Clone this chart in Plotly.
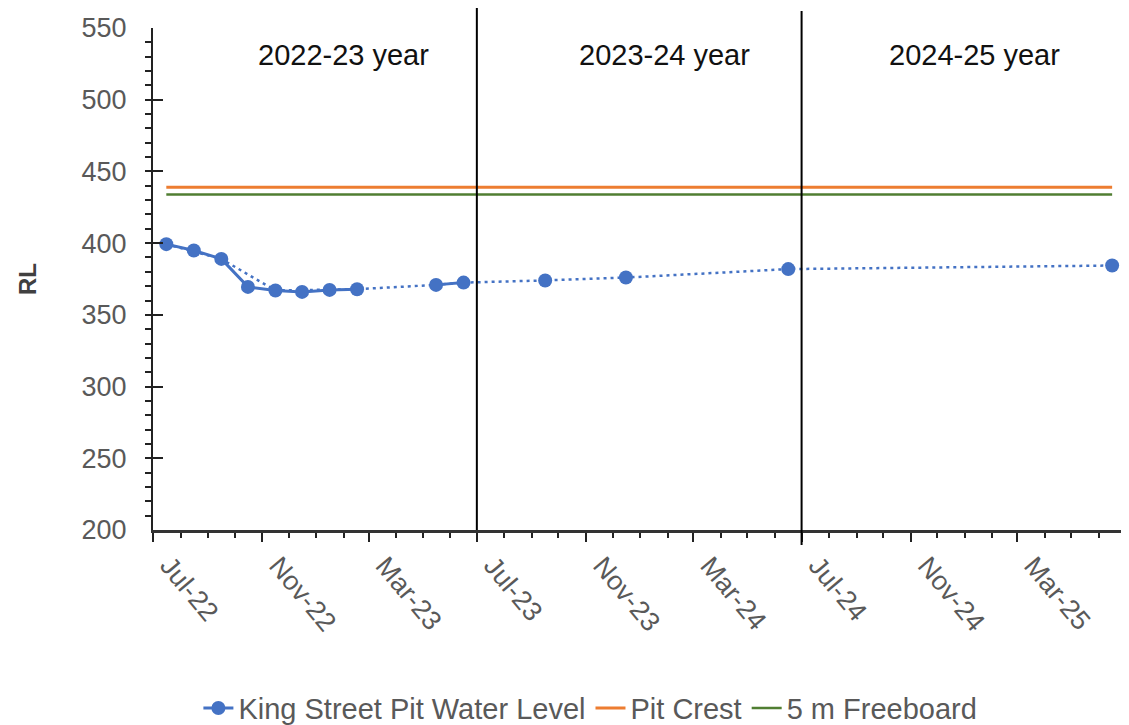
import pandas as pd
import plotly.graph_objects as go

# ---- data ----
obs_months = ["2022-07", "2022-08", "2022-09", "2022-10", "2022-11", "2022-12",
              "2023-01", "2023-02", "2023-05", "2023-06", "2023-09", "2023-12",
              "2024-06", "2025-06"]
water_level = [399.3, 394.9, 389.0, 369.5, 367.0, 366.0,
               367.4, 367.9, 370.9, 372.5, 374.0, 376.0,
               381.9, 384.4]
trend_months = ["2022-07", "2022-09", "2022-11", "2023-02", "2023-05", "2023-06",
                "2023-09", "2023-12", "2024-06", "2025-06"]
pit_crest = 439.0
freeboard = 5.0

year_bounds = ["2023-07-01", "2024-07-01"]
year_labels = ["2022-23 year", "2023-24 year", "2024-25 year"]
year_label_at = ["2023-02-01", "2024-01-28", "2025-01-12"]

# ---- derived series ----
def mid(m):
    return pd.Timestamp(m + "-01") + pd.Timedelta(days=15)

lvl = pd.Series(water_level, index=[mid(m) for m in obs_months])
full_idx = pd.date_range(mid(obs_months[0]).replace(day=1), mid(obs_months[-1]).replace(day=1), freq="MS") + pd.Timedelta(days=15)
monthly = lvl.reindex(full_idx)
trend = lvl.loc[[mid(m) for m in trend_months]]

BLUE = "#4472C4"
ORANGE = "#ED7D31"
GREEN = "#507E32"
FONT = "Liberation Sans, Arial, sans-serif"

fig = go.Figure()

fig.add_trace(go.Scatter(
    x=trend.index, y=trend.values, mode="lines",
    line=dict(color=BLUE, width=2.5, dash="3px,4px"),
    showlegend=False, hoverinfo="skip"))

fig.add_trace(go.Scatter(
    x=monthly.index, y=[None if pd.isna(v) else v for v in monthly.values],
    mode="lines+markers", name="King Street Pit Water Level",
    line=dict(color=BLUE, width=3), marker=dict(color=BLUE, size=14),
    connectgaps=False))

ends = [lvl.index[0], lvl.index[-1]]
fig.add_trace(go.Scatter(
    x=ends, y=[pit_crest, pit_crest], mode="lines", name="Pit Crest",
    line=dict(color=ORANGE, width=3)))
fig.add_trace(go.Scatter(
    x=ends, y=[pit_crest - freeboard, pit_crest - freeboard], mode="lines",
    name="5 m Freeboard", line=dict(color=GREEN, width=2.5)))

shapes = []
for i, b in enumerate(year_bounds):
    shapes.append(dict(type="line", xref="x", yref="paper", x0=b, x1=b,
                       y0=0 if i == 0 else -0.03, y1=1.04 if i == 0 else 1.034,
                       line=dict(color="black", width=2)))

annotations = []
for t, x in zip(year_labels, year_label_at):
    annotations.append(dict(x=x, y=0.946, xref="x", yref="paper", text=t,
                            showarrow=False, xanchor="center", yanchor="middle",
                            font=dict(family=FONT, size=29, color="#111111")))

fig.update_layout(
    width=1129, height=725,
    margin=dict(l=145, r=12, t=20, b=203, autoexpand=False),
    paper_bgcolor="white", plot_bgcolor="white",
    font=dict(family=FONT, size=27, color="#595959"),
    shapes=shapes, annotations=annotations,
    legend=dict(orientation="h", x=0.45, xanchor="center", y=-0.355, yanchor="middle",
                font=dict(family=FONT, size=29, color="#595959"),
                itemwidth=30, tracegroupgap=0),
    showlegend=True,
)

fig.update_xaxes(
    type="date", range=["2022-07-01", "2025-06-30 12:00"], automargin=False,
    tick0="2022-07-01", dtick="M4", tickformat="%b-%y", tickangle=50,
    ticklabelshift=16, ticklabelstandoff=-3,
    ticks="outside", ticklen=9, tickwidth=2, tickcolor="#222222",
    minor=dict(dtick="M1", tick0="2022-07-01", ticks="outside", ticklen=5,
               tickwidth=1.5, tickcolor="#222222", showgrid=False),
    showline=True, linecolor="#333333", linewidth=3,
    showgrid=False, zeroline=False,
    tickfont=dict(family=FONT, size=27, color="#595959"),
)
fig.update_yaxes(
    range=[200, 550], tickvals=[200, 250, 300, 350, 400, 450, 500, 550],
    automargin=False,
    ticks="inside", ticklen=10, tickwidth=2, tickcolor="#222222",
    minor=dict(dtick=10, tick0=200, ticks="outside", ticklen=6,
               tickwidth=1.5, tickcolor="#222222", showgrid=False),
    showline=True, linecolor="#222222", linewidth=2,
    showgrid=False, zeroline=False, ticklabelstandoff=19,
    tickfont=dict(family=FONT, size=27, color="#595959"),
    title=dict(text="<b>RL</b>", standoff=38,
               font=dict(family=FONT, size=24, color="#404040")),
)

fig.write_html("out.html")
